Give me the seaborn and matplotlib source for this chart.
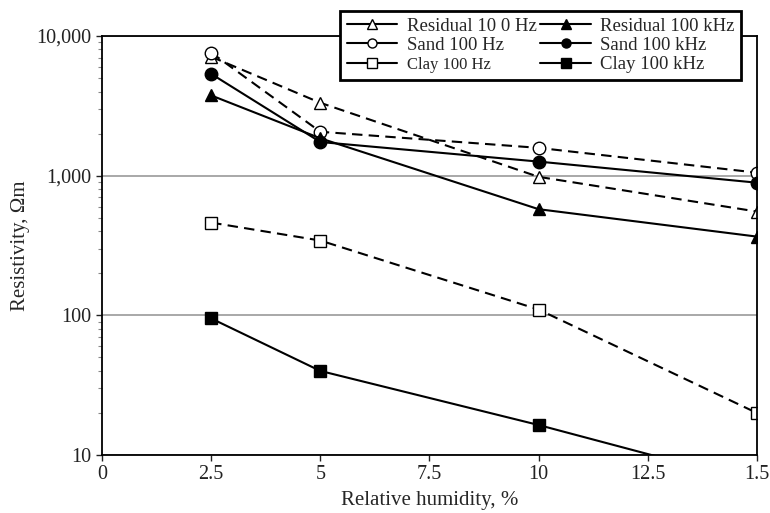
import matplotlib
matplotlib.use("Agg")
import matplotlib.pyplot as plt
import matplotlib.ticker as mticker
import seaborn as sns
import pandas as pd

humidity = [2.5, 5, 10, 15]
residual_100hz = [7100, 3320, 980, 553]
residual_100khz = [3750, 1850, 575, 366]
sand_100hz = [7600, 2060, 1580, 1050]
sand_100khz = [5350, 1740, 1260, 890]
clay_100hz = [461, 343, 110, 20]
clay_100khz = [95, 40, 16.4, 6.3]

x_ticks = [0, 2.5, 5, 7.5, 10, 12.5, 15]
x_tick_labels = ["0", "2.5", "5", "7.5", "10", "12.5", "1.5"]
y_ticks = [10, 100, 1000, 10000]
y_tick_labels = ["10", "100", "1,000", "10,000"]

series = [
    ("Residual 10 0 Hz", residual_100hz, "^", "white", "--"),
    ("Sand 100 Hz", sand_100hz, "o", "white", "--"),
    ("Clay 100 Hz", clay_100hz, "s", "white", "--"),
    ("Residual 100 kHz", residual_100khz, "^", "black", "-"),
    ("Sand 100 kHz", sand_100khz, "o", "black", "-"),
    ("Clay 100 kHz", clay_100khz, "s", "black", "-"),
]

sns.set_style("white")
plt.rcParams["font.family"] = ["Liberation Serif", "DejaVu Serif"]

fig = plt.figure(figsize=(7.7, 5.13), dpi=100)
ax = fig.add_axes([0.1325, 0.113, 0.8505, 0.817])

handles = []
for name, vals, mk, fc, ls in series:
    df = pd.DataFrame({"x": humidity, "y": vals})
    sns.lineplot(data=df, x="x", y="y", ax=ax, color="black", linewidth=1.5,
                 linestyle=ls, marker=mk, markersize=9, markerfacecolor=fc,
                 markeredgecolor="black", markeredgewidth=1.0, legend=False)
    line = ax.get_lines()[-1]
    if ls == "--":
        line.set_dashes((5, 3))
    handles.append(line)

ax.set_yscale("log")
ax.set_xlim(0, 15)
ax.set_ylim(10, 10000)
ax.set_xticks(x_ticks)
ax.set_xticklabels(x_tick_labels)
ax.yaxis.set_major_locator(mticker.FixedLocator(y_ticks))
ax.yaxis.set_major_formatter(mticker.FixedFormatter(y_tick_labels))
ax.yaxis.set_minor_locator(mticker.LogLocator(base=10, subs=range(2, 10)))
ax.yaxis.set_minor_formatter(mticker.NullFormatter())
ax.tick_params(axis="both", which="major", labelsize=14.5, length=4, width=1,
               direction="out", colors="#222222", left=True, bottom=True)
ax.tick_params(axis="y", which="minor", length=3, width=0.8, left=True, color="#888888")
ax.grid(True, axis="y", which="major", color="#999999", linewidth=1.2)
ax.grid(False, axis="x")
for sp in ax.spines.values():
    sp.set_color("black")
    sp.set_linewidth(1.3)

ax.set_xlabel("Relative humidity, %", fontsize=15, labelpad=5)
ax.set_ylabel("Resistivity, \u03a9m", fontsize=15, labelpad=5)

leg = ax.legend(handles=handles, labels=[s[0] for s in series], ncol=2,
                loc="upper left", bbox_to_anchor=(340 / 770, 1 - 11 / 513),
                bbox_transform=fig.transFigure, frameon=True, fancybox=False,
                fontsize=13.5, handlelength=2.7, handletextpad=0.5,
                columnspacing=0.2, labelspacing=0.12, borderpad=0.35,
                borderaxespad=0)
leg.get_frame().set_edgecolor("black")
leg.get_frame().set_linewidth(2)
leg.get_frame().set_alpha(1)
for t in leg.get_texts():
    if t.get_text() == "Clay 100 Hz":
        t.set_fontsize(12)
for lh in leg.get_lines():
    lh.set_linestyle("-")
    lh.set_markersize(6.5)
leg.set_zorder(10)

fig.savefig("out.png", dpi=100)
